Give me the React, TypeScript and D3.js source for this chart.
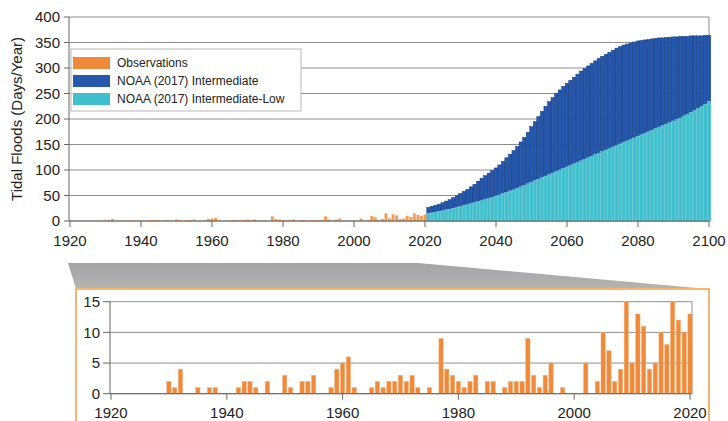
import React from "react";
import * as d3 from "d3";

// observed tidal flood days per year, 1920-2020
const obsYears = d3.range(1920, 2021);
const observations = [
  0, 0, 0, 0, 0, 0, 0, 0, 0, 0,
  2, 1, 4, 0, 0, 1, 0, 1, 1, 0,
  0, 0, 1, 2, 2, 1, 0, 2, 0, 0,
  3, 1, 0, 2, 2, 3, 0, 0, 1, 4,
  5, 6, 1, 0, 0, 1, 2, 1, 2, 2,
  3, 2, 3, 1, 0, 1, 0, 9, 4, 3,
  2, 1, 2, 3, 0, 2, 2, 0, 1, 2,
  2, 2, 9, 3, 1, 3, 5, 0, 1, 0,
  0, 0, 5, 0, 2, 10, 7, 2, 4, 15,
  5, 13, 11, 4, 5, 10, 8, 15, 12, 10,
  13,
];

// projections 2021-2100
const projYears = d3.range(2021, 2101);
const intermediate = [
  27, 29, 31, 33, 36, 39, 42, 46, 50, 54,
  58, 62, 67, 72, 78, 84, 89, 94, 99, 104,
  110, 117, 124, 131, 138, 146, 155, 164, 174, 185,
  195, 205, 215, 225, 234, 242, 250, 257, 264, 270,
  276, 282, 288, 294, 299, 304, 309, 314, 319, 323,
  327, 331, 335, 339, 342, 345, 347, 349, 351, 353,
  354, 355, 356, 357, 358, 359, 359, 360, 360, 361,
  361, 362, 362, 362, 363, 363, 363, 363, 364, 364,
];
const intermediateLow = [
  15, 16, 17, 19, 20, 22, 23, 25, 27, 28,
  30, 32, 34, 36, 38, 40, 42, 44, 46, 49,
  51, 54, 56, 59, 61, 64, 67, 70, 73, 76,
  79, 82, 85, 88, 91, 94, 97, 100, 103, 106,
  109, 112, 115, 118, 121, 124, 127, 130, 133, 136,
  139, 142, 145, 148, 151, 154, 157, 160, 163, 166,
  169, 172, 175, 178, 181, 184, 187, 190, 193, 196,
  199, 202, 206, 209, 213, 217, 221, 225, 229, 234,
];

const topYTicks = [0, 50, 100, 150, 200, 250, 300, 350, 400];
const topXTicks = [1920, 1940, 1960, 1980, 2000, 2020, 2040, 2060, 2080, 2100];
const zoomYTicks = [0, 5, 10, 15];
const zoomXTicks = [1920, 1940, 1960, 1980, 2000, 2020];
const legendLabels = ["Observations", "NOAA (2017) Intermediate", "NOAA (2017) Intermediate-Low"];

const ORANGE = "#ee8a3a";
const BLUE = "#2658ab";
const CYAN = "#40c0cc";
const GRID = "#8e8e8e";
const FONT = "'Liberation Sans', Arial, sans-serif";

export default function App() {
  const width = 728;
  const height = 421;

  // top chart
  const x = d3.scaleLinear().domain([1920, 2100]).range([70, 709]);
  const y = d3.scaleLinear().domain([0, 400]).range([221, 17]);
  const bw = x(1921) - x(1920);

  // zoomed chart
  const x2 = d3.scaleLinear().domain([1920, 2020]).range([111, 690]);
  const y2 = d3.scaleLinear().domain([0, 15]).range([393.7, 301.7]);
  const bw2 = (x2(1921) - x2(1920)) * 0.74;

  const legendColors = [ORANGE, BLUE, CYAN];

  return (
    <svg
      width={width}
      height={height}
      style={{ position: "absolute", left: 0, top: 0, background: "#fff" }}
      fontFamily={FONT}
    >
      <defs>
        <linearGradient id="zoomGrad" x1="0" y1="0" x2="0" y2="1">
          <stop offset="0" stopColor="#a4a4a4" />
          <stop offset="1" stopColor="#b4b4b4" />
        </linearGradient>
      </defs>

      {/* top chart grid */}
      {topYTicks.map((t) => (
        <g key={"gy" + t}>
          <line x1={x(1920) - 1} x2={x(2100)} y1={y(t)} y2={y(t)} stroke={GRID} strokeWidth={1} />
          <line x1={x(1920) - 6} x2={x(1920) - 1} y1={y(t)} y2={y(t)} stroke="#666" />
          <text x={x(1920) - 10} y={y(t)} dy="0.36em" textAnchor="end" fontSize={15} fill="#222">
            {t}
          </text>
        </g>
      ))}
      <line x1={x(2100)} x2={x(2100)} y1={y(400)} y2={y(0)} stroke={GRID} />

      {/* projections */}
      {projYears.map((yr, i) => (
        <rect
          key={"pi" + yr}
          x={x(yr) - bw / 2}
          width={bw}
          y={y(intermediate[i])}
          height={y(0) - y(intermediate[i])}
          fill={BLUE}
          stroke="#163b80"
          strokeWidth={0.5}
        />
      ))}
      {projYears.map((yr, i) => (
        <rect
          key={"pl" + yr}
          x={x(yr) - bw / 2}
          width={bw}
          y={y(intermediateLow[i])}
          height={y(0) - y(intermediateLow[i])}
          fill={CYAN}
          stroke="#86d8df"
          strokeWidth={0.5}
        />
      ))}

      {/* observations on top chart */}
      {obsYears.map((yr, i) =>
        observations[i] > 0 ? (
          <rect
            key={"ot" + yr}
            x={x(yr) - bw * 0.4}
            width={bw * 0.8}
            y={y(observations[i])}
            height={y(0) - y(observations[i])}
            fill={ORANGE}
            opacity={0.85}
          />
        ) : null
      )}

      {/* top axes */}
      <line x1={x(1920) - 1} x2={x(1920) - 1} y1={y(400)} y2={y(0)} stroke="#666" />
      <line x1={x(1920) - 1} x2={x(2100)} y1={y(0)} y2={y(0)} stroke="#666" />
      {topXTicks.map((t) => (
        <g key={"tx" + t}>
          <line x1={x(t)} x2={x(t)} y1={y(0)} y2={y(0) + 6} stroke="#666" />
          <text x={x(t)} y={241} dy="0.36em" textAnchor="middle" fontSize={15} fill="#222">
            {t}
          </text>
        </g>
      ))}
      <text
        transform={`translate(17, ${(y(0) + y(400)) / 2}) rotate(-90)`}
        textAnchor="middle"
        dy="0.36em"
        fontSize={15}
        fill="#222"
      >
        Tidal Floods (Days/Year)
      </text>

      {/* legend */}
      <rect x={71} y={49} width={230} height={62} fill="#fff" stroke="#b8b8b8" />
      {legendLabels.map((l, i) => (
        <g key={l}>
          <rect x={73} y={57 + i * 18} width={37} height={12} fill={legendColors[i]} />
          <text x={117} y={63 + i * 18} dy="0.36em" fontSize={12} fill="#222">
            {l}
          </text>
        </g>
      ))}

      {/* zoom connector */}
      <polygon
        points={`${x(1920) - 2},263 ${x(2018)},263 708,289 76,289`}
        fill="url(#zoomGrad)"
      />
      <rect x={76} y={289} width={633} height={150} fill="#fff" stroke="#f5b56c" strokeWidth={2} />

      {/* zoomed chart grid */}
      {zoomYTicks.map((t) => (
        <g key={"zy" + t}>
          <line x1={x2(1920) - 1} x2={692} y1={y2(t)} y2={y2(t)} stroke={GRID} />
          <line x1={x2(1920) - 8} x2={x2(1920) - 1} y1={y2(t)} y2={y2(t)} stroke="#666" />
          <text x={x2(1920) - 11} y={y2(t)} dy="0.36em" textAnchor="end" fontSize={15} fill="#222">
            {t}
          </text>
        </g>
      ))}
      <line x1={692} x2={692} y1={y2(15)} y2={y2(0)} stroke={GRID} />

      {obsYears.map((yr, i) =>
        observations[i] > 0 ? (
          <rect
            key={"ob" + yr}
            x={x2(yr) - bw2 / 2}
            width={bw2}
            y={y2(observations[i])}
            height={y2(0) - y2(observations[i])}
            fill={ORANGE}
            stroke="#f6b07a"
            strokeWidth={0.5}
          />
        ) : null
      )}

      <line x1={x2(1920) - 1} x2={x2(1920) - 1} y1={y2(15)} y2={y2(0)} stroke="#666" />
      <line x1={x2(1920) - 1} x2={692} y1={y2(0)} y2={y2(0)} stroke="#666" />
      {zoomXTicks.map((t) => (
        <g key={"zx" + t}>
          <line x1={x2(t)} x2={x2(t)} y1={y2(0)} y2={y2(0) + 6} stroke="#666" />
          <text x={x2(t)} y={413} dy="0.36em" textAnchor="middle" fontSize={15} fill="#222">
            {t}
          </text>
        </g>
      ))}
    </svg>
  );
}
